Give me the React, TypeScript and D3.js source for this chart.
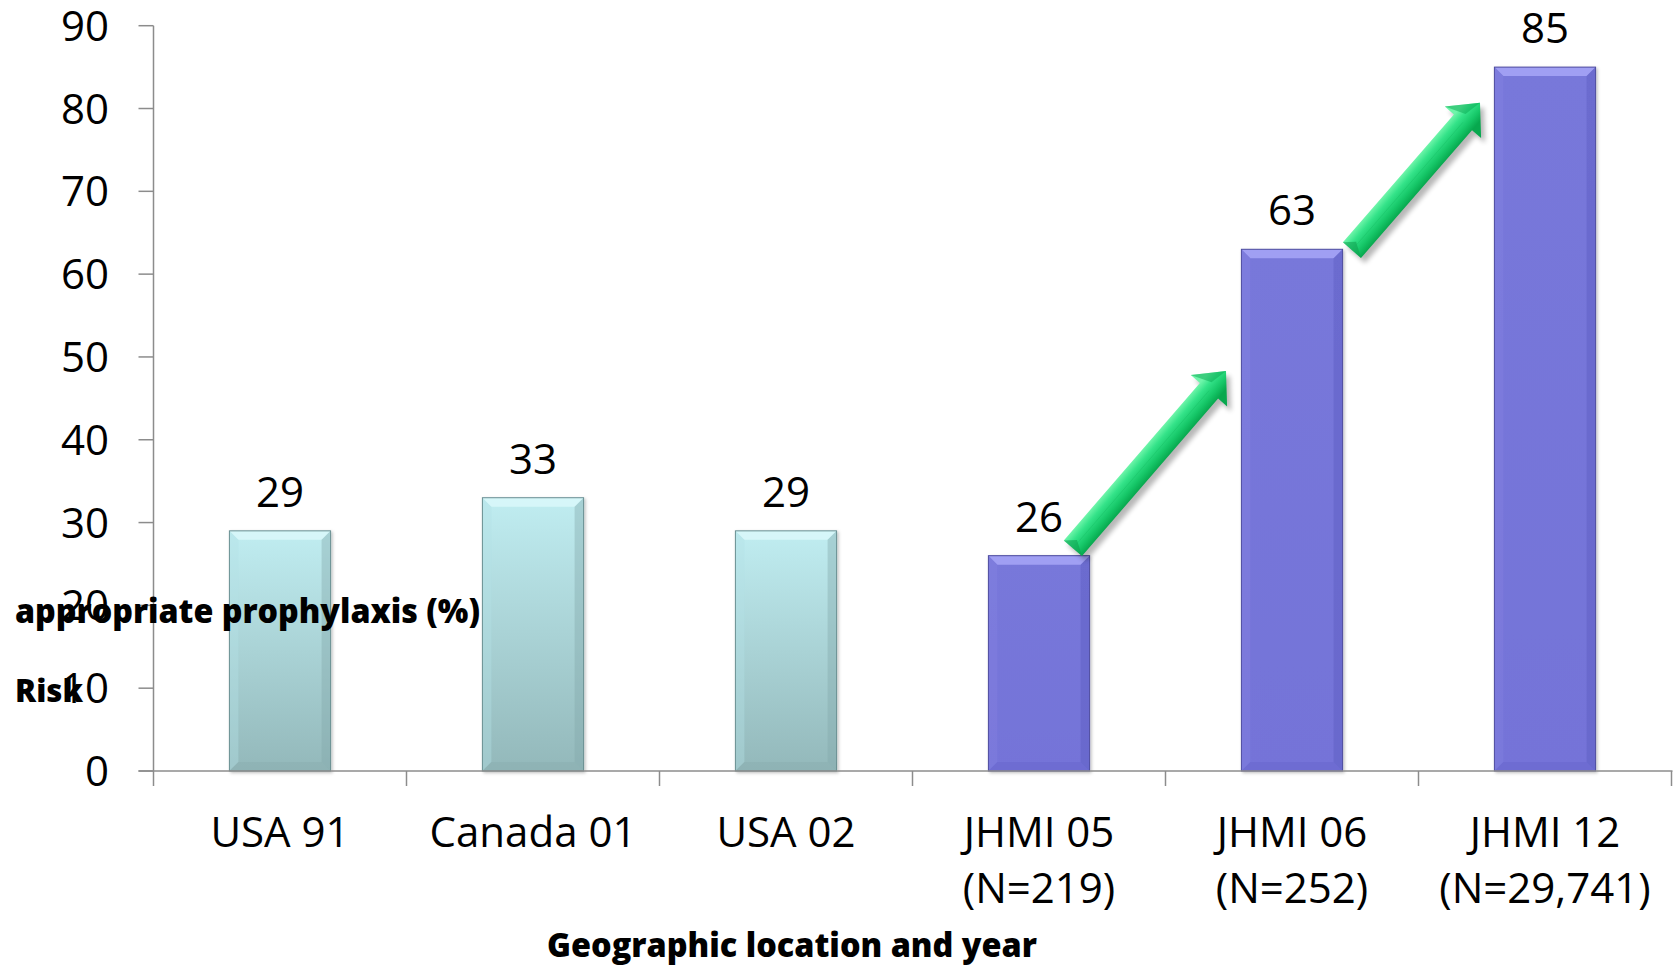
import React from "react";
import * as d3 from "d3";

// Share of patients receiving appropriate prophylaxis, by site and year
const categories = ["USA 91", "Canada 01", "USA 02", "JHMI 05", "JHMI 06", "JHMI 12"];
const sampleSizes = ["", "", "", "(N=219)", "(N=252)", "(N=29,741)"];
const values = [29, 33, 29, 26, 63, 85];
const groups = ["external", "external", "external", "jhmi", "jhmi", "jhmi"];
const yTicks = [0, 10, 20, 30, 40, 50, 60, 70, 80, 90];

// Trend arrows between consecutive JHMI bars (values on the y scale)
const trendFrom = ["JHMI 05", "JHMI 06"];
const trendTo = ["JHMI 06", "JHMI 12"];
const trendFromValue = [26.9, 62.9];
const trendToValue = [48.3, 80.7];

const W = 1673;
const H = 967;
const X0 = 153.5;
const X1 = 1671.5;
const Y0 = 771;
const Y1 = 25.7;

const FONT = "'Open Sans', 'Noto Sans', sans-serif";

const palettes: Record<string, any> = {
  external: {
    top: "#c0edf1",
    bottom: "#93b8ba",
    bevelTop: "#d8f7f9",
    bevelLeft: "#b5e2e6",
    bevelRight: "#82a8ab",
    bevelBottom: "#89adb0",
    outline: "#6a8f92",
  },
  jhmi: {
    top: "#7878da",
    bottom: "#7473d8",
    bevelTop: "#a4a3f5",
    bevelLeft: "#8483e2",
    bevelRight: "#5b5abf",
    bevelBottom: "#6766cc",
    outline: "#4e4d9f",
  },
};

function Bar({ x, y, w, h, p, id }: any) {
  const b = Math.min(9, h / 2);
  return (
    <g filter="url(#barShadow)">
      <defs>
        <linearGradient id={id} x1="0" y1="0" x2="0" y2="1">
          <stop offset="0" stopColor={p.top} />
          <stop offset="1" stopColor={p.bottom} />
        </linearGradient>
      </defs>
      <rect x={x} y={y} width={w} height={h} fill={`url(#${id})`} />
      <polygon
        points={`${x},${y} ${x + w},${y} ${x + w - b},${y + b} ${x + b},${y + b}`}
        fill={p.bevelTop}
        opacity={0.9}
      />
      <polygon
        points={`${x},${y} ${x + b},${y + b} ${x + b},${y + h - b} ${x},${y + h}`}
        fill={p.bevelLeft}
        opacity={0.4}
      />
      <polygon
        points={`${x + w},${y} ${x + w},${y + h} ${x + w - b},${y + h - b} ${x + w - b},${y + b}`}
        fill={p.bevelRight}
        opacity={0.4}
      />
      <polygon
        points={`${x},${y + h} ${x + b},${y + h - b} ${x + w - b},${y + h - b} ${x + w},${y + h}`}
        fill={p.bevelBottom}
        opacity={0.5}
      />
      <rect x={x} y={y} width={w} height={h} fill="none" stroke={p.outline} strokeWidth={1} />
    </g>
  );
}

function Arrow({ x0, y0, x1, y1, idx }: any) {
  const dx = x1 - x0;
  const dy = y1 - y0;
  const len = Math.hypot(dx, dy);
  const ux = dx / len;
  const uy = dy / len;
  // normal pointing up-left
  const nx = uy;
  const ny = -ux;
  const sw = 12;
  const hw = 24;
  const hl = 26;
  const bx = x1 - ux * hl;
  const by = y1 - uy * hl;
  const pt = (px: number, py: number) => `${px.toFixed(1)},${py.toFixed(1)}`;
  const outline = [
    pt(x0 + nx * sw, y0 + ny * sw),
    pt(bx + nx * sw, by + ny * sw),
    pt(bx + nx * hw, by + ny * hw),
    pt(x1, y1),
    pt(bx - nx * hw, by - ny * hw),
    pt(bx - nx * sw, by - ny * sw),
    pt(x0 - nx * sw, y0 - ny * sw),
  ].join(" ");
  const gid = `arrowGrad${idx}`;
  return (
    <g>
      <defs>
        <linearGradient
          id={gid}
          gradientUnits="userSpaceOnUse"
          x1={x0 + nx * sw}
          y1={y0 + ny * sw}
          x2={x0 - nx * sw}
          y2={y0 - ny * sw}
        >
          <stop offset="0" stopColor="#6ff5aa" />
          <stop offset="0.3" stopColor="#34e389" />
          <stop offset="0.7" stopColor="#16c768" />
          <stop offset="1" stopColor="#07a84e" />
        </linearGradient>
      </defs>
      <polygon points={outline} fill="#000" opacity={0.28} transform="translate(4,5)" filter="url(#arrowBlur)" />
      <polygon points={outline} fill={`url(#${gid})`} />
      <polygon
        points={[
          pt(x0 + nx * sw, y0 + ny * sw),
          pt(x0 + nx * sw * 0.2 + ux * 9, y0 + ny * sw * 0.2 + uy * 9),
          pt(x0 - nx * sw, y0 - ny * sw),
        ].join(" ")}
        fill="#0e9c4c"
        opacity={0.55}
      />
      <polygon
        points={[pt(bx + nx * hw, by + ny * hw), pt(x1, y1), pt(bx + nx * sw * 0.3 + ux * 8, by + ny * sw * 0.3 + uy * 8)].join(" ")}
        fill="#0aa852"
        opacity={0.5}
      />
      <line x1={x0} y1={y0} x2={bx} y2={by} stroke="#12b85e" strokeWidth={0.8} opacity={0.4} />
    </g>
  );
}

export default function App() {
  const x = d3.scaleBand<string>().domain(categories).range([X0, X1]).paddingInner(0.6).paddingOuter(0.3);
  const y = d3.scaleLinear().domain([0, 90]).range([Y0, Y1]);
  const step = x.step();
  const bw = x.bandwidth();
  const center = (c: string) => (x(c) as number) + bw / 2;
  const boundaries = d3.range(categories.length + 1).map((i) => X0 + i * step);

  const fromOffsets = [0.134, 0.237];
  const toOffsets = [-0.261, -0.257];

  return (
    <svg
      width={W}
      height={H}
      viewBox={`0 0 ${W} ${H}`}
      style={{ position: "absolute", left: 0, top: 0, background: "#ffffff" }}
    >
      <defs>
        <filter id="barShadow" x="-20%" y="-20%" width="140%" height="140%">
          <feDropShadow dx="1.5" dy="1.5" stdDeviation="1.5" floodColor="#000" floodOpacity="0.25" />
        </filter>
        <filter id="arrowBlur" x="-20%" y="-20%" width="140%" height="140%">
          <feGaussianBlur stdDeviation="2.5" />
        </filter>
      </defs>

      {/* bars */}
      {categories.map((c, i) => {
        const top = y(values[i]);
        return (
          <Bar
            key={c}
            id={`barGrad${i}`}
            x={x(c)}
            y={top}
            w={bw}
            h={Y0 - top}
            p={palettes[groups[i]]}
          />
        );
      })}

      {/* axes */}
      <line x1={X0} y1={y(90)} x2={X0} y2={Y0} stroke="#8c8c8c" strokeWidth={1.5} />
      {yTicks.map((t) => (
        <line key={`yt${t}`} x1={X0 - 15} x2={X0} y1={y(t)} y2={y(t)} stroke="#8c8c8c" strokeWidth={1.5} />
      ))}
      <line x1={X0 - 15} y1={Y0} x2={X1 + 1} y2={Y0} stroke="#8c8c8c" strokeWidth={1.5} />
      {boundaries.map((bx, i) => (
        <line key={`xt${i}`} x1={bx} x2={bx} y1={Y0} y2={Y0 + 15} stroke="#8c8c8c" strokeWidth={1.5} />
      ))}

      {/* y tick labels */}
      {yTicks.map((t) => (
        <text
          key={`yl${t}`}
          x={109}
          y={y(t) + 15}
          textAnchor="end"
          fontFamily={FONT}
          fontSize={42}
          fill="#000"
        >
          {t}
        </text>
      ))}

      {/* category labels */}
      {categories.map((c, i) => (
        <text key={`cl${c}`} textAnchor="middle" fontFamily={FONT} fontSize={42} fill="#000">
          <tspan x={center(c)} y={847}>
            {c}
          </tspan>
          {sampleSizes[i] && (
            <tspan x={center(c)} y={903}>
              {sampleSizes[i]}
            </tspan>
          )}
        </text>
      ))}

      {/* value labels */}
      {categories.map((c, i) => (
        <text
          key={`vl${c}`}
          x={center(c)}
          y={y(values[i]) - 24}
          textAnchor="middle"
          fontFamily={FONT}
          fontSize={42}
          fill="#000"
        >
          {values[i]}
        </text>
      ))}

      {/* trend arrows */}
      {trendFrom.map((f, i) => (
        <Arrow
          key={`ar${i}`}
          idx={i}
          x0={center(f) + fromOffsets[i] * step}
          y0={y(trendFromValue[i])}
          x1={center(trendTo[i]) + toOffsets[i] * step}
          y1={y(trendToValue[i])}
        />
      ))}

      {/* axis titles */}
      <text x={15} y={623} fontFamily={FONT} fontWeight={800} fontSize={33} fill="#000" textLength={465} lengthAdjust="spacingAndGlyphs">
        appropriate prophylaxis (%)
      </text>
      <text x={15} y={702} fontFamily={FONT} fontWeight={800} fontSize={32} fill="#000" textLength={68} lengthAdjust="spacingAndGlyphs">
        Risk
      </text>
      <text x={792} y={957} textAnchor="middle" fontFamily={FONT} fontWeight={800} fontSize={33} fill="#000" textLength={490} lengthAdjust="spacingAndGlyphs">
        Geographic location and year
      </text>
    </svg>
  );
}
